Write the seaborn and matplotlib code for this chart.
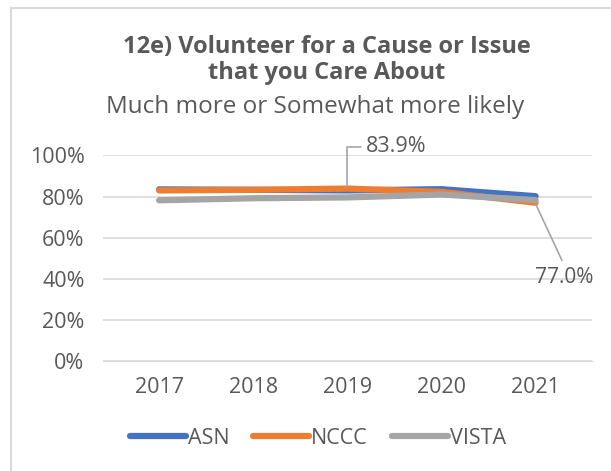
import pandas as pd
import seaborn as sns
import matplotlib.pyplot as plt
from matplotlib.patches import Rectangle

years = ["2017", "2018", "2019", "2020", "2021"]
asn = [83.5, 83.3, 83.0, 83.6, 80.2]
nccc = [83.0, 83.3, 83.9, 82.3, 77.0]
vista = [78.2, 79.2, 79.6, 81.0, 78.3]

df = pd.DataFrame({"year": years * 3,
                   "value": asn + nccc + vista,
                   "group": ["ASN"] * 5 + ["NCCC"] * 5 + ["VISTA"] * 5})

sns.set_style("white")
plt.rcParams["font.family"] = ["Open Sans", "DejaVu Sans"]
txt = "#595959"
fs = 15.5

fig = plt.figure(figsize=(6.11, 4.71), dpi=100)
ax = fig.add_axes([0.168, 0.233, 0.801, 0.437])

colors = {"ASN": "#4472C4", "NCCC": "#ED7D31", "VISTA": "#A5A5A5"}
sns.lineplot(data=df, x="year", y="value", hue="group", palette=colors,
             linewidth=4.5, sort=False, ax=ax, legend=False)

ax.set_ylim(0, 100)
ax.set_xlim(-0.6, 4.6)
ax.set_yticks(range(0, 101, 20))
ax.set_yticklabels([f"{v}%" for v in range(0, 101, 20)])
ax.yaxis.grid(True, color="#D9D9D9", linewidth=1.2)
ax.set_axisbelow(True)
for s in ax.spines.values():
    s.set_visible(False)
ax.spines["bottom"].set_visible(True)
ax.spines["bottom"].set_color("#D9D9D9")
ax.tick_params(axis="y", length=0, labelsize=fs, colors=txt, pad=13)
ax.tick_params(axis="x", length=0, labelsize=fs, colors=txt, pad=11)
ax.set_xlabel("")
ax.set_ylabel("")

# data labels with leader lines
ax.plot([2, 2, 2.15], [84.6, 104.3, 104.3], color="#A5A5A5", lw=1.2, clip_on=False)
ax.text(2.2, 104.3, f"{nccc[2]:.1f}%", fontsize=fs, color=txt, va="center", clip_on=False)
ax.plot([4, 4.28], [76.5, 49], color="#A5A5A5", lw=1.2)
ax.text(4.3, 40.5, f"{nccc[4]:.1f}%", fontsize=15, color=txt, va="center", ha="center",
        clip_on=False)

fig.text(0.535, 0.872, "12e) Volunteer for a Cause or Issue\nthat you Care About",
         ha="center", va="center", fontsize=17, fontweight="bold", color=txt,
         linespacing=1.12)
fig.text(0.516, 0.772, "Much more or Somewhat more likely", ha="center", va="center",
         fontsize=17.5, color=txt)

# legend
handles = [plt.Line2D([], [], color=colors[g], lw=4.5, solid_capstyle="round") for g in colors]
fig.legend(handles, list(colors), loc="center", bbox_to_anchor=(0.52, 0.07), ncol=3,
           frameon=False, fontsize=fs, labelcolor=txt, handlelength=2.6,
           handletextpad=0.1, columnspacing=1.1)

fig.patches.append(Rectangle((0.018, -0.1), 1.0, 1.083, transform=fig.transFigure,
                             fill=False, edgecolor="#D9D9D9", lw=1.5))

plt.savefig("out.png", dpi=100)
